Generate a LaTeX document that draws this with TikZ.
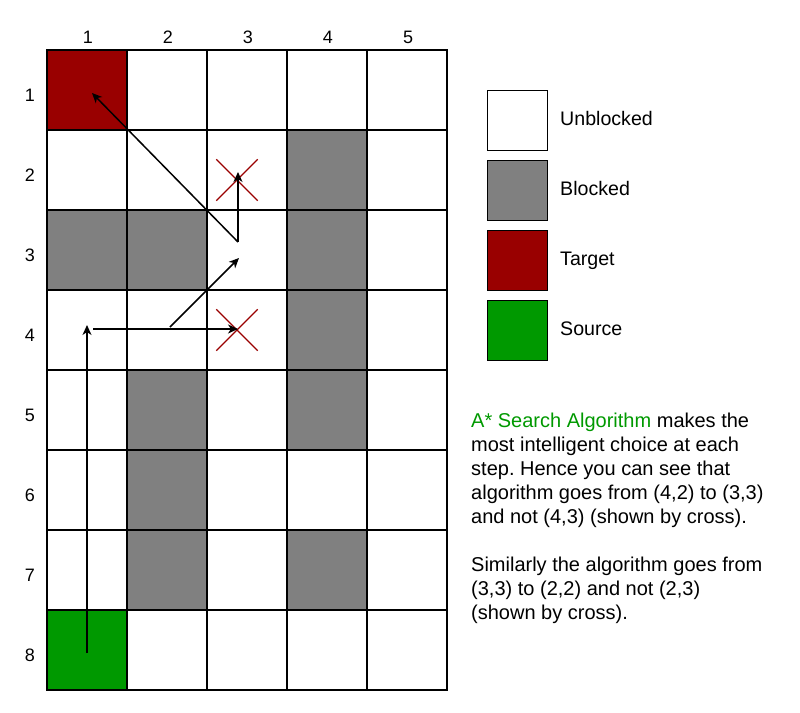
\documentclass[tikz,border=0pt]{standalone}
\usepackage{fontspec}
\setmainfont{Liberation Sans}
\usetikzlibrary{arrows.meta,shapes.misc}
\definecolor{targetred}{HTML}{990000}
\definecolor{sourcegreen}{HTML}{009900}
\definecolor{blockgrey}{HTML}{808080}
\frenchspacing

\begin{document}
\begin{tikzpicture}[x=1pt,y=-1pt]
\tikzset{cell/.style={draw, line width=1.5pt, minimum size=80pt, inner sep=0pt, outer sep=0pt},
  legbox/.style={draw, line width=1.5pt, minimum size=60pt, inner sep=0pt},
  lbl/.style={font=\fontsize{18}{20}\selectfont, inner sep=0pt},
  txt/.style={font=\fontsize{19.6}{24}\selectfont, inner sep=0pt},
  desctxt/.style={font=\fontsize{20}{24}\selectfont, inner sep=0pt},
  move/.style={-{Stealth[length=10pt,width=9pt,inset=3pt]}, line width=1.5pt},
  crossmark/.style={cross out, draw=targetred, line width=1.3pt, minimum size=40pt, inner sep=0pt}}
\useasboundingbox (0,0) rectangle (800,712);
% grid
\foreach \r in {1,...,8}
  \foreach \c in {1,...,5}
    \node[cell] (c\r\c) at ({7+80*\c},{10+80*\r}) {};
\foreach \r/\c in {2/4,3/1,3/2,3/4,4/4,5/2,5/4,6/2,7/2,7/4}
  \node[cell, fill=blockgrey] (b\r\c) at (c\r\c) {};
\node[cell, fill=targetred] (target) at (c11) {};
\node[cell, fill=sourcegreen] (source) at (c81) {};
\foreach \c in {1,...,5}
  \node[lbl] (col\c) at ({8+80*\c},37) {\c};
\foreach \r in {1,...,8}
  \node[lbl] (row\r) at (30,{15+80*\r}) {\r};
% path
\coordinate (s0) at (87,653);
\coordinate (s1) at (87,325);
\coordinate (s2) at (93,329);
\coordinate (s3) at (238,329);
\coordinate (s4) at (170,327);
\coordinate (s5) at (239,258);
\coordinate (s6) at (238,242);
\coordinate (s7) at (238,172);
\coordinate (s8) at (92,93);
\node[crossmark] (x23) at (237,180) {};
\node[crossmark] (x43) at (237,330) {};
\draw[move] (s0) -- (s1);
\draw[move] (s2) -- (s3);
\draw[move] (s4) -- (s5);
\draw[move] (s6) -- (s7);
\draw[move] (s6) -- (s8);
% legend
\node[legbox, fill=white] (lu) at (517.5,120.5) {};
\node[legbox, fill=blockgrey] (lb) at (517.5,190.5) {};
\node[legbox, fill=targetred] (lt) at (517.5,260.5) {};
\node[legbox, fill=sourcegreen] (ls) at (517.5,330.5) {};
\node[txt, anchor=base west] (lul) at (560,125) {Unblocked};
\node[txt, anchor=base west] (lbl) at (560,195) {Blocked};
\node[txt, anchor=base west] (ltl) at (560,265) {Target};
\node[txt, anchor=base west] (lsl) at (560,335) {Source};
\node[desctxt, anchor=north west, align=left] (desc) at (471,413)
  {\textcolor{sourcegreen}{A* Search Algorithm} makes the\\
   most intelligent choice at each\\
   step. Hence you can see that\\
   algorithm goes from (4,2) to (3,3)\\
   and not (4,3) (shown by cross).\\[24pt]
   Similarly the algorithm goes from\\
   (3,3) to (2,2) and not (2,3)\\
   (shown by cross).};
\end{tikzpicture}
\end{document}
